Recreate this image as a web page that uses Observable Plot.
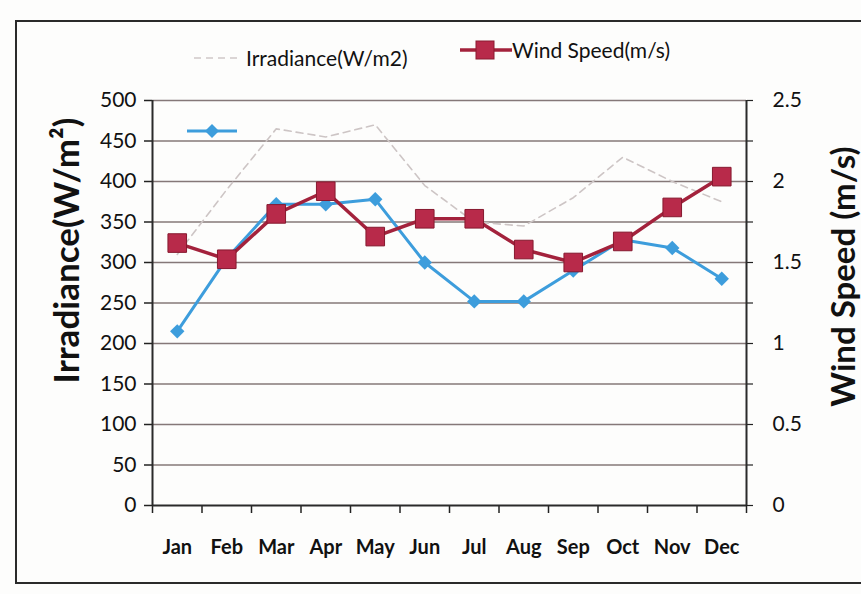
<!DOCTYPE html>
<html><head><meta charset="utf-8">
<script src="https://cdn.jsdelivr.net/npm/d3@7"></script>
<script src="https://cdn.jsdelivr.net/npm/@observablehq/plot@0.6"></script>
<style>
body{margin:0;background:#fff;font-family:Lato,"Open Sans",sans-serif;}
#wrap{position:relative;width:861px;height:594px;overflow:hidden;background:#fdfdfc;}
#frame{position:absolute;left:15px;top:20px;width:860px;height:560px;border:2px solid #2a2a2a;border-right:none;}
#chart{position:absolute;left:0;top:0;}
.leg{position:absolute;display:flex;align-items:center;font-size:21px;color:#111;white-space:nowrap;}
.title{position:absolute;font-weight:bold;color:#111;white-space:nowrap;transform-origin:center center;line-height:1;}
</style></head><body>
<div id="wrap">
  <div id="frame"></div>
  <div id="chart"></div>
  <div class="leg" style="left:192px;top:45px;">
    <svg width="54" height="20"><line x1="2" y1="10" x2="46" y2="10" stroke="#cfc8c8" stroke-width="1.5" stroke-dasharray="7,5"/></svg>
    <span id="legIrr"></span>
  </div>
  <div class="leg" style="left:458px;top:37px;">
    <svg width="54" height="24"><line x1="2" y1="12" x2="54" y2="12" stroke="#a3223c" stroke-width="3.5"/><rect x="18" y="3" width="18" height="18" fill="#b82a4a" stroke="#8a1a30" stroke-width="1"/></svg>
    <span id="legWind"></span>
  </div>
  <div class="leg" style="left:186px;top:121px;">
    <svg width="54" height="20"><line x1="1" y1="10" x2="51" y2="10" stroke="#3d9ddc" stroke-width="3"/><path d="M26,3 L33,10 L26,17 L19,10 Z" fill="#3d9ddc"/></svg>
  </div>
  <div class="title" id="titleLeft" style="font-size:35px;"></div>
  <div class="title" id="titleRight" style="font-size:33px;"></div>
</div>
<script>
const months = ["Jan","Feb","Mar","Apr","May","Jun","Jul","Aug","Sep","Oct","Nov","Dec"];
const irradiance = [310, 390, 465, 455, 470, 395, 350, 345, 380, 430, 400, 375];
const irradianceBlue = [215, 305, 372, 372, 378, 300, 252, 252, 290, 328, 318, 280];
const windSpeed = [1.62, 1.52, 1.80, 1.94, 1.66, 1.77, 1.77, 1.58, 1.50, 1.63, 1.84, 2.03];
const leftTicks = [0, 50, 100, 150, 200, 250, 300, 350, 400, 450, 500];
const rightTicks = [0, 0.5, 1, 1.5, 2, 2.5];
const legendLabels = ["Irradiance(W/m2)", "Wind Speed(m/s)"];
const leftTitle = "Irradiance(W/m²)";
const rightTitle = "Wind Speed (m/s)";

const windScale = 500 / 2.5; // right axis 0–2.5 maps to left 0–500

document.getElementById("legIrr").textContent = legendLabels[0];
document.getElementById("legWind").textContent = legendLabels[1];

const idx = months.map((m, i) => i);
const cx = i => i + 0.5;

const chart = Plot.plot({
  width: 861,
  height: 594,
  marginLeft: 152,
  marginRight: 115,
  marginTop: 100,
  marginBottom: 89,
  style: {background: "transparent", fontFamily: "Lato, sans-serif", color: "#111"},
  x: {type: "linear", domain: [0, months.length], axis: null},
  y: {domain: [0, 500], axis: null},
  marks: [
    Plot.ruleY(leftTicks.slice(1), {stroke: "#857878", strokeWidth: 1.6}),
    Plot.axisY(leftTicks, {anchor: "left", tickSize: 8, tickPadding: 8, fontSize: 21, label: null, stroke: "#222", strokeWidth: 1.5}),
    Plot.axisY(leftTicks, {anchor: "right", tickSize: 6, tickFormat: () => "", label: null, stroke: "#222", strokeWidth: 1.2}),
    Plot.axisY(rightTicks.map(d => d * windScale), {anchor: "right", tickSize: 0, tickPadding: 26, fontSize: 21, label: null, tickFormat: d => String(d / windScale)}),
    Plot.axisX(d3.range(months.length + 1), {anchor: "bottom", tickSize: 8, tickFormat: () => "", label: null, stroke: "#222", strokeWidth: 1.5}),
    Plot.axisX(idx.map(cx), {anchor: "bottom", tickSize: 0, tickPadding: 34, fontSize: 20, fontWeight: "bold", label: null, tickFormat: d => months[Math.floor(d)]}),
    Plot.ruleY([0], {stroke: "#2a2a2a", strokeWidth: 2}),
    Plot.ruleX([0, months.length], {stroke: "#2a2a2a", strokeWidth: 2}),
    Plot.line(idx, {x: cx, y: i => irradiance[i], stroke: "#cdc5c5", strokeWidth: 1.6, strokeDasharray: "7,5"}),
    Plot.line(idx, {x: cx, y: i => irradianceBlue[i], stroke: "#3d9ddc", strokeWidth: 3}),
    Plot.dot(idx, {x: cx, y: i => irradianceBlue[i], symbol: "diamond2", r: 6.5, fill: "#3d9ddc"}),
    Plot.line(idx, {x: cx, y: i => windSpeed[i] * windScale, stroke: "#a3223c", strokeWidth: 3.5}),
    Plot.dot(idx, {x: cx, y: i => windSpeed[i] * windScale, symbol: "square", r: 10.5, fill: "#b82a4a", stroke: "#86192f", strokeWidth: 1})
  ]
});
document.getElementById("chart").appendChild(chart);

function placeTitle(el, text, cxp, cyp) {
  el.textContent = text;
  const w = el.offsetWidth, h = el.offsetHeight;
  el.style.left = (cxp - w / 2) + "px";
  el.style.top = (cyp - h / 2) + "px";
  el.style.transform = "rotate(-90deg)";
}
placeTitle(document.getElementById("titleLeft"), leftTitle, 66, 250);
placeTitle(document.getElementById("titleRight"), rightTitle, 842, 276);
</script>
</body></html>
